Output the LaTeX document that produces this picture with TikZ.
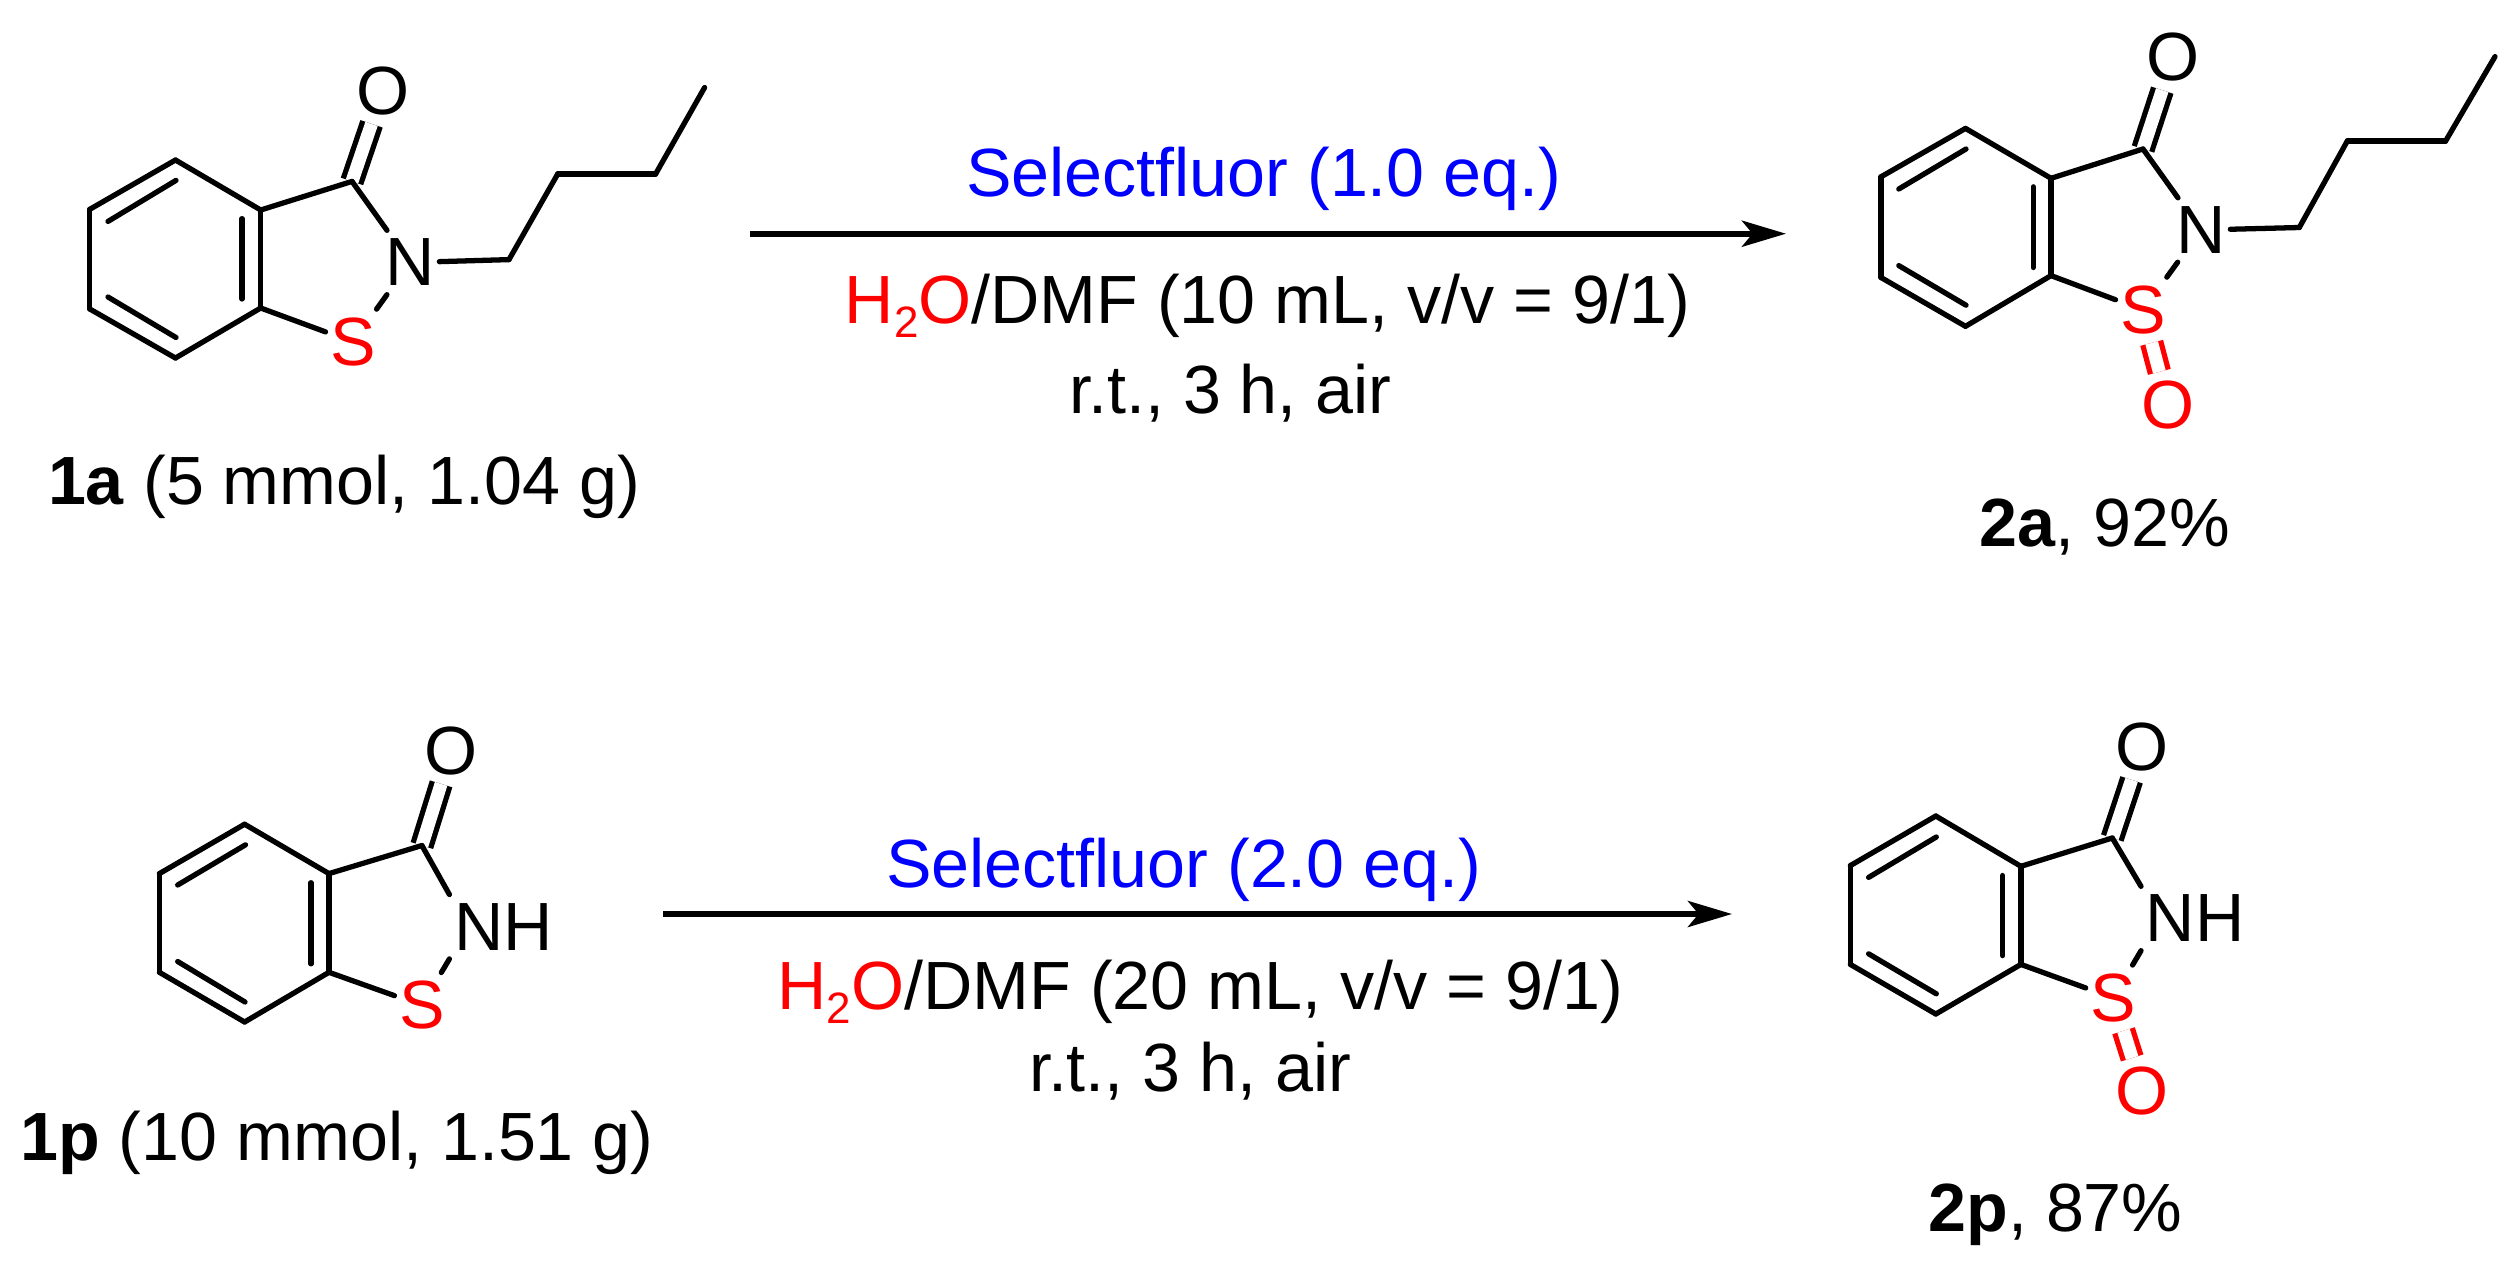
\documentclass[tikz,border=0pt]{standalone}
\usepackage{fontspec}
\setmainfont{Liberation Sans}
\usepackage{tikz}
\usetikzlibrary{arrows.meta}
\tikzstyle{atom} = [inner xsep = 0.04cm, inner ysep = 0.08cm, font = \fontsize{19.4}{23}\selectfont]
\tikzstyle{txt} = [anchor = base, inner sep = 0pt, font = \fontsize{19.4}{23}\selectfont]
\tikzstyle{bond} = [draw, line width = 1.5pt, line cap = round]
\tikzstyle{dbond} = [draw, line width = 1.5pt, double, double distance = 0.13cm]
\tikzstyle{rxn} = [draw, line width = 1.7pt, -{Stealth[length = 0.44cm, width = 0.26cm, inset = 0.106cm]}]
\newcommand{\subtwo}{\raisebox{-4pt}{\fontsize{12.5}{14}\selectfont 2}}

\begin{document}
\begin{tikzpicture}[x = 0.01cm, y = -0.01cm]
	\useasboundingbox (0,0) rectangle (2517,1266);

	% 1a
	\coordinate (1a_1) at (175.5,160);
	\coordinate (1a_2) at (89.8,209.3);
	\coordinate (1a_3) at (89.8,309);
	\coordinate (1a_4) at (175.5,358);
	\coordinate (1a_5) at (260.7,308);
	\coordinate (1a_6) at (260.7,210);
	\coordinate (1a_C) at (352,181.4);
	\coordinate (1a_i1) at (176,180.4);
	\coordinate (1a_i2) at (108,221.4);
	\coordinate (1a_i3) at (108,297);
	\coordinate (1a_i4) at (176,337.5);
	\coordinate (1a_i5) at (242,299);
	\coordinate (1a_i6) at (242,218.6);
	\coordinate (1a_b1) at (509,259.6);
	\coordinate (1a_b2) at (557.7,174);
	\coordinate (1a_b3) at (655.6,174);
	\coordinate (1a_b4) at (704.6,87.5);
	\node [atom] (1a_O) at (382.7,91) {O};
	\node [atom] (1a_N) at (410,262.5) {N};
	\node [atom, text = red] (1a_S) at (353,342) {S};
	\node [txt] (1a_lbl) at (344,504) {\textbf{1a} (5 mmol, 1.04 g)};

	\path [dbond] (1a_C) -- (1a_O);
	\path [bond] (1a_1) -- (1a_2);
	\path [bond] (1a_2) -- (1a_3);
	\path [bond] (1a_3) -- (1a_4);
	\path [bond] (1a_4) -- (1a_5);
	\path [bond] (1a_5) -- (1a_6);
	\path [bond] (1a_6) -- (1a_1);
	\path [bond] (1a_i1) -- (1a_i2);
	\path [bond] (1a_i3) -- (1a_i4);
	\path [bond] (1a_i5) -- (1a_i6);
	\path [bond] (1a_6) -- (1a_C);
	\path [bond] (1a_C) -- (1a_N);
	\path [bond] (1a_N) -- (1a_S);
	\path [bond] (1a_S) -- (1a_5);
	\path [bond] (1a_N) -- (1a_b1);
	\path [bond] (1a_b1) -- (1a_b2);
	\path [bond] (1a_b2) -- (1a_b3);
	\path [bond] (1a_b3) -- (1a_b4);

	% 2a
	\coordinate (2a_1) at (1965.5,128.4);
	\coordinate (2a_2) at (1881,176.8);
	\coordinate (2a_3) at (1881,277.5);
	\coordinate (2a_4) at (1965.5,326.3);
	\coordinate (2a_5) at (2051,275.6);
	\coordinate (2a_6) at (2051,178.3);
	\coordinate (2a_C) at (2143,149);
	\coordinate (2a_i1) at (1966,149);
	\coordinate (2a_i2) at (1898.8,189);
	\coordinate (2a_i3) at (1898.8,265.6);
	\coordinate (2a_i4) at (1966,305.2);
	\coordinate (2a_i5) at (2033.2,267.5);
	\coordinate (2a_i6) at (2033.2,186.8);
	\coordinate (2a_b1) at (2299.3,227.5);
	\coordinate (2a_b2) at (2347.3,141);
	\coordinate (2a_b3) at (2445.6,141);
	\coordinate (2a_b4) at (2495,56.6);
	\node [atom] (2a_O) at (2173,57.3) {O};
	\node [atom] (2a_N) at (2201,230) {N};
	\node [atom, text = red] (2a_S) at (2143,310) {S};
	\node [atom, text = red] (2a_O2) at (2168,404.7) {O};
	\node [txt] (2a_lbl) at (2105,546.8) {\textbf{2a}, 92\%};

	\path [dbond] (2a_C) -- (2a_O);
	\path [dbond, draw = red] (2a_S) -- (2a_O2);
	\path [bond] (2a_1) -- (2a_2);
	\path [bond] (2a_2) -- (2a_3);
	\path [bond] (2a_3) -- (2a_4);
	\path [bond] (2a_4) -- (2a_5);
	\path [bond] (2a_5) -- (2a_6);
	\path [bond] (2a_6) -- (2a_1);
	\path [bond] (2a_i1) -- (2a_i2);
	\path [bond] (2a_i3) -- (2a_i4);
	\path [bond] (2a_i5) -- (2a_i6);
	\path [bond] (2a_6) -- (2a_C);
	\path [bond] (2a_C) -- (2a_N);
	\path [bond] (2a_N) -- (2a_S);
	\path [bond] (2a_S) -- (2a_5);
	\path [bond] (2a_N) -- (2a_b1);
	\path [bond] (2a_b1) -- (2a_b2);
	\path [bond] (2a_b2) -- (2a_b3);
	\path [bond] (2a_b3) -- (2a_b4);

	% 1p
	\coordinate (1p_1) at (244.6,824.2);
	\coordinate (1p_2) at (159.4,873.6);
	\coordinate (1p_3) at (159.4,972.3);
	\coordinate (1p_4) at (244.6,1022);
	\coordinate (1p_5) at (329,972.3);
	\coordinate (1p_6) at (329,873.6);
	\coordinate (1p_C) at (421.9,845.5);
	\coordinate (1p_i1) at (245.5,844.8);
	\coordinate (1p_i2) at (177.7,885);
	\coordinate (1p_i3) at (177.7,961.5);
	\coordinate (1p_i4) at (245,1002);
	\coordinate (1p_i5) at (311,963.8);
	\coordinate (1p_i6) at (311,882.7);
	\node [atom] (1p_O) at (451.3,751) {O};
	\node [atom] (1p_NH) at (503.4,926.7) {NH};
	\node [atom, text = red] (1p_S) at (421.9,1005.4) {S};
	\node [txt] (1p_lbl) at (337,1160.6) {\textbf{1p} (10 mmol, 1.51 g)};

	\path [dbond] (1p_C) -- (1p_O);
	\path [bond] (1p_1) -- (1p_2);
	\path [bond] (1p_2) -- (1p_3);
	\path [bond] (1p_3) -- (1p_4);
	\path [bond] (1p_4) -- (1p_5);
	\path [bond] (1p_5) -- (1p_6);
	\path [bond] (1p_6) -- (1p_1);
	\path [bond] (1p_i1) -- (1p_i2);
	\path [bond] (1p_i3) -- (1p_i4);
	\path [bond] (1p_i5) -- (1p_i6);
	\path [bond] (1p_6) -- (1p_C);
	\path [bond] (1p_C) -- (1p_NH.north west);
	\path [bond] (1p_NH.south west) -- (1p_S);
	\path [bond] (1p_S) -- (1p_5);

	% 2p
	\coordinate (2p_1) at (1935.8,816);
	\coordinate (2p_2) at (1850.3,865.6);
	\coordinate (2p_3) at (1850.3,964.4);
	\coordinate (2p_4) at (1935.8,1014);
	\coordinate (2p_5) at (2020.9,964.4);
	\coordinate (2p_6) at (2020.9,866.3);
	\coordinate (2p_C) at (2112.3,838);
	\coordinate (2p_i1) at (1936.3,837);
	\coordinate (2p_i2) at (1868.6,877.4);
	\coordinate (2p_i3) at (1868.6,953.8);
	\coordinate (2p_i4) at (1936.3,993.8);
	\coordinate (2p_i5) at (2002.6,955.6);
	\coordinate (2p_i6) at (2002.6,875.5);
	\node [atom] (2p_O) at (2142.5,747) {O};
	\node [atom] (2p_NH) at (2195,918.5) {NH};
	\node [atom, text = red] (2p_S) at (2113.2,997.9) {S};
	\node [atom, text = red] (2p_O2) at (2142.5,1090.8) {O};
	\node [txt] (2p_lbl) at (2055.6,1231.9) {\textbf{2p}, 87\%};

	\path [dbond] (2p_C) -- (2p_O);
	\path [dbond, draw = red] (2p_S) -- (2p_O2);
	\path [bond] (2p_1) -- (2p_2);
	\path [bond] (2p_2) -- (2p_3);
	\path [bond] (2p_3) -- (2p_4);
	\path [bond] (2p_4) -- (2p_5);
	\path [bond] (2p_5) -- (2p_6);
	\path [bond] (2p_6) -- (2p_1);
	\path [bond] (2p_i1) -- (2p_i2);
	\path [bond] (2p_i3) -- (2p_i4);
	\path [bond] (2p_i5) -- (2p_i6);
	\path [bond] (2p_6) -- (2p_C);
	\path [bond] (2p_C) -- (2p_NH.north west);
	\path [bond] (2p_NH.south west) -- (2p_S);
	\path [bond] (2p_S) -- (2p_5);

	% arrows
	\coordinate (rxn1_s) at (750,233.7);
	\coordinate (rxn1_e) at (1786,233.7);
	\coordinate (rxn2_s) at (663,914);
	\coordinate (rxn2_e) at (1732,914);
	\path [rxn] (rxn1_s) -- (rxn1_e);
	\path [rxn] (rxn2_s) -- (rxn2_e);

	\node [txt, text = blue] (rxn1_top) at (1263.8,196) {Selectfluor (1.0 eq.)};
	\node [txt] (rxn1_sol) at (1267.4,323.3) {\textcolor{red}{H\subtwo O}/DMF (10 mL, v/v = 9/1)};
	\node [txt] (rxn1_cond) at (1230.5,413.3) {r.t., 3 h, air};
	\node [txt, text = blue] (rxn2_top) at (1183.8,887.7) {Selectfluor (2.0 eq.)};
	\node [txt] (rxn2_sol) at (1200.2,1009.3) {\textcolor{red}{H\subtwo O}/DMF (20 mL, v/v = 9/1)};
	\node [txt] (rxn2_cond) at (1190.2,1091.7) {r.t., 3 h, air};
\end{tikzpicture}
\end{document}
